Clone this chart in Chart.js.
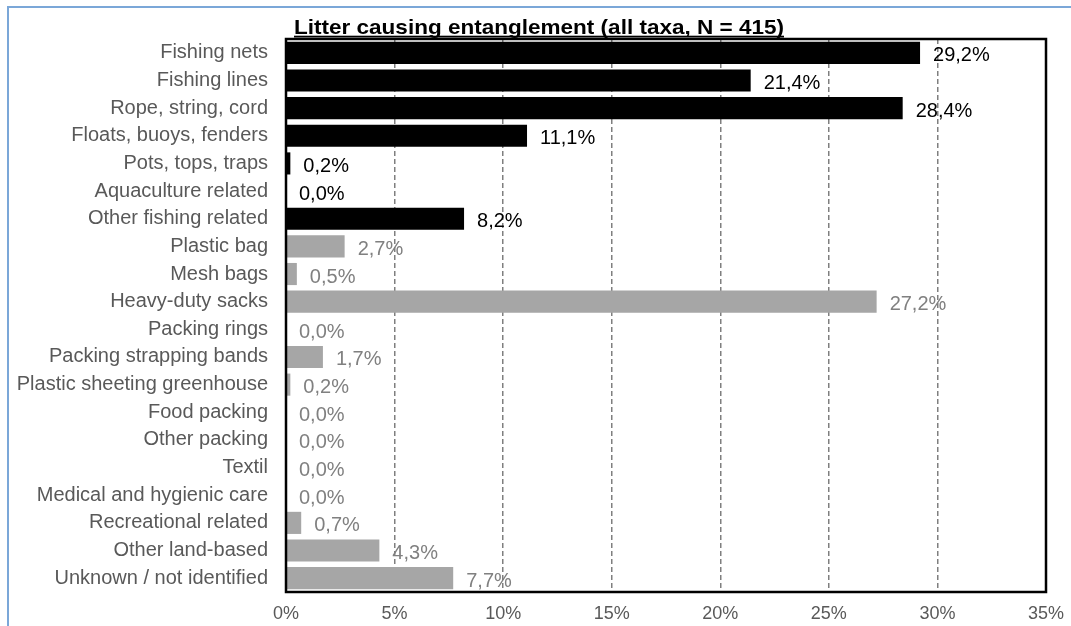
<!DOCTYPE html>
<html lang="en">
<head>
    <meta charset="UTF-8">
    <title>Litter causing entanglement</title>
    <style>
        body {
            margin: 0;
            background-color: #ffffff;
            font-family: "Liberation Sans", Arial, sans-serif;
        }
        .frame {
            position: absolute;
            left: 7px;
            top: 6px;
            width: 1080px;
            height: 640px;
            border-left: 2px solid #7ba7d8;
            border-top: 2px solid #7ba7d8;
        }
        .chart-box {
            position: absolute;
            left: 0;
            top: 0;
            width: 1071px;
            height: 626px;
        }
    </style>
</head>
<body>
    <div class="frame"></div>
    <div class="chart-box">
        <canvas id="litterChart"></canvas>
    </div>

    <script src="https://cdn.jsdelivr.net/npm/chart.js"></script>
    <script>
        const chartTitle = "Litter causing entanglement (all taxa, N = 415)";

        const categories = [
            "Fishing nets",
            "Fishing lines",
            "Rope, string, cord",
            "Floats, buoys, fenders",
            "Pots, tops, traps",
            "Aquaculture related",
            "Other fishing related",
            "Plastic bag",
            "Mesh bags",
            "Heavy-duty sacks",
            "Packing rings",
            "Packing strapping bands",
            "Plastic sheeting greenhouse",
            "Food packing",
            "Other packing",
            "Textil",
            "Medical and hygienic care",
            "Recreational related",
            "Other land-based",
            "Unknown / not identified"
        ];

        // share of entanglement cases, in percent
        const shares = [29.2, 21.4, 28.4, 11.1, 0.2, 0.0, 8.2, 2.7, 0.5, 27.2,
                        0.0, 1.7, 0.2, 0.0, 0.0, 0.0, 0.0, 0.7, 4.3, 7.7];

        // the first categories are fishing related (drawn black)
        const fishingRelated = 7;

        const xTicks = [0, 5, 10, 15, 20, 25, 30, 35];

        const FONT = '"Liberation Sans", Arial, sans-serif';
        const BLACK = "#000000";
        const GREY_BAR = "#a6a6a6";
        const GREY_TEXT = "#808080";
        const AXIS_TEXT = "#595959";

        function isFishing(i) {
            return i < fishingRelated;
        }

        // title drawn left aligned on the plot, bold and underlined
        const titlePlugin = {
            id: "underlinedTitle",
            afterDraw(chart) {
                const ctx = chart.ctx;
                const x = chart.chartArea.left + 8;
                const y = 33.5;
                ctx.save();
                ctx.font = "bold 21px " + FONT;
                ctx.fillStyle = BLACK;
                ctx.textBaseline = "alphabetic";
                const w = ctx.measureText(chartTitle).width;
                const sx = 490 / w;
                ctx.translate(x, y);
                ctx.scale(sx, 1);
                ctx.fillText(chartTitle, 0, 0);
                ctx.fillRect(0, 2.2, w, 1.8);
                ctx.restore();
            }
        };

        // black frame round the plot area
        const framePlugin = {
            id: "plotFrame",
            afterDatasetsDraw(chart) {
                const a = chart.chartArea;
                const ctx = chart.ctx;
                ctx.save();
                ctx.strokeStyle = BLACK;
                ctx.lineWidth = 2.5;
                ctx.strokeRect(a.left, a.top, a.right - a.left, a.bottom - a.top);
                ctx.restore();
            }
        };

        // value labels at the end of each bar
        const valueLabels = {
            id: "valueLabels",
            afterDatasetsDraw(chart) {
                const ctx = chart.ctx;
                const meta = chart.getDatasetMeta(0);
                ctx.save();
                ctx.font = "20px " + FONT;
                ctx.textAlign = "left";
                ctx.textBaseline = "middle";
                meta.data.forEach((bar, i) => {
                    const txt = shares[i].toFixed(1).replace(".", ",") + "%";
                    ctx.fillStyle = isFishing(i) ? BLACK : GREY_TEXT;
                    ctx.fillText(txt, bar.x + 13, bar.y + 3);
                });
                ctx.restore();
            }
        };

        const ctx = document.getElementById("litterChart").getContext("2d");

        new Chart(ctx, {
            type: "bar",
            data: {
                labels: categories,
                datasets: [{
                    data: shares,
                    backgroundColor: c => isFishing(c.dataIndex) ? BLACK : GREY_BAR,
                    borderWidth: 0,
                    barPercentage: 0.8,
                    categoryPercentage: 1.0
                }]
            },
            options: {
                indexAxis: "y",
                responsive: true,
                maintainAspectRatio: false,
                animation: false,
                layout: {
                    padding: { top: 39, right: 25, bottom: 0, left: 0 }
                },
                plugins: {
                    legend: { display: false },
                    title: { display: false },
                    tooltip: { enabled: false }
                },
                scales: {
                    x: {
                        min: xTicks[0],
                        max: xTicks[xTicks.length - 1],
                        afterBuildTicks: scale => {
                            scale.ticks = xTicks.map(v => ({ value: v }));
                        },
                        afterFit: scale => {
                            scale.height = 34;
                            scale.paddingLeft = 0;
                            scale.paddingRight = 0;
                        },
                        grid: {
                            color: "#7f7f7f",
                            lineWidth: 1.5,
                            drawTicks: false
                        },
                        border: {
                            display: false,
                            dash: [5, 3]
                        },
                        ticks: {
                            padding: 11,
                            color: AXIS_TEXT,
                            font: { family: FONT, size: 18 },
                            callback: v => v + "%"
                        }
                    },
                    y: {
                        afterFit: scale => { scale.width = 286; },
                        grid: { display: false, drawTicks: false },
                        border: { display: false },
                        ticks: {
                            autoSkip: false,
                            padding: 18,
                            color: AXIS_TEXT,
                            font: { family: FONT, size: 20 }
                        }
                    }
                }
            },
            plugins: [valueLabels, framePlugin, titlePlugin]
        });
    </script>
</body>
</html>
